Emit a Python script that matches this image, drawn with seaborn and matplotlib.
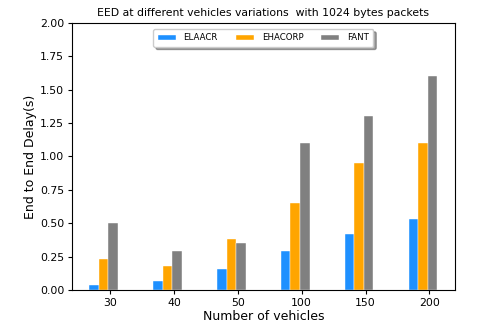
import matplotlib
matplotlib.use("Agg")
import matplotlib.pyplot as plt
import seaborn as sns
import pandas as pd
import numpy as np

vehicles = ["30", "40", "50", "100", "150", "200"]
elaacr = [0.04, 0.07, 0.16, 0.29, 0.42, 0.53]
ehacorp = [0.23, 0.18, 0.38, 0.65, 0.95, 1.10]
fant = [0.50, 0.29, 0.35, 1.10, 1.30, 1.60]
protocols = ["ELAACR", "EHACORP", "FANT"]
colors = ["#1E90FF", "#FFA500", "#808080"]

df = pd.DataFrame({
    "vehicles": vehicles * 3,
    "delay": elaacr + ehacorp + fant,
    "protocol": [p for p in protocols for _ in vehicles],
})

fig = plt.figure(figsize=(4.95, 3.25), dpi=100)
ax = fig.add_axes([0.145, 0.108, 0.774, 0.821])

sns.barplot(data=df, x="vehicles", y="delay", hue="protocol", order=vehicles,
            hue_order=protocols, palette=colors, width=0.45, saturation=1,
            errorbar=None, ax=ax, edgecolor="white", linewidth=0.3)

ax.set_xticks(np.arange(len(vehicles)) + 0.1)
ax.set_xticklabels(vehicles, fontsize=7.8)
ax.set_xlim(-0.5, 5.5)
ax.set_ylim(0, 2.0)
yt = np.arange(0, 2.01, 0.25)
ax.set_yticks(yt)
ax.set_yticklabels([f"{v:.2f}" for v in yt], fontsize=7.8)
ax.tick_params(length=3, pad=2.5)
ax.set_xlabel("Number of vehicles", fontsize=9, labelpad=2)
ax.set_ylabel("End to End Delay(s)", fontsize=9, labelpad=2)
ax.set_title("EED at different vehicles variations  with 1024 bytes packets",
             fontsize=7.8, pad=5)

ax.legend(loc="upper center", ncol=3, fontsize=6.2, shadow=True, fancybox=True,
          handlelength=2.1, handleheight=0.6, handletextpad=0.9,
          columnspacing=2.1, borderaxespad=0.7, borderpad=0.5, title=None)

fig.savefig("out.png", dpi=100)
